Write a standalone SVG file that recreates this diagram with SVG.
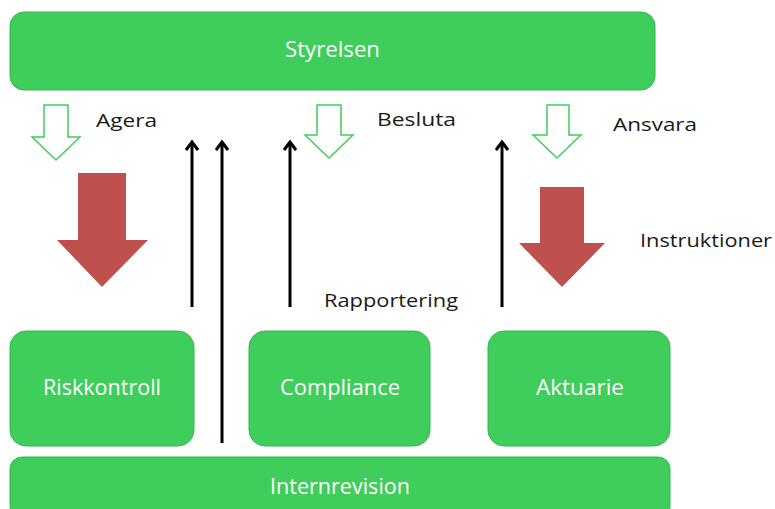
<svg xmlns="http://www.w3.org/2000/svg" width="775" height="509" viewBox="0 0 775 509">
<style>
.box{fill:#3fcd5c;stroke:#33b84f;stroke-width:1}
.bt{font-family:"Open Sans","DejaVu Sans",sans-serif;font-size:21px;fill:#ffffff}
.lb{font-family:"Open Sans","DejaVu Sans",sans-serif;font-size:19px;fill:#1a1a1a}
.open{fill:#ffffff;stroke:#3fcd5c;stroke-width:1.5;stroke-linejoin:miter}
.red{fill:#c0504d}
.con{stroke:#000;stroke-width:3;fill:none;marker-end:url(#ah)}
</style>
<defs>
<marker id="ah" viewBox="0 0 14 14" refX="11" refY="7" markerWidth="14" markerHeight="14" markerUnits="userSpaceOnUse" orient="auto">
<path d="M3,1 L11,7 L3,13" fill="none" stroke="#000" stroke-width="3"/>
</marker>
</defs>
<rect width="775" height="509" fill="#ffffff"/>
<g id="styrelsen"><rect class="box" x="10" y="12" width="645" height="78" rx="14"/><text class="bt" x="285" y="57" textLength="95" lengthAdjust="spacingAndGlyphs">Styrelsen</text></g>
<g id="riskkontroll"><rect class="box" x="10" y="331" width="184" height="115" rx="16"/><text class="bt" x="43" y="395" textLength="118" lengthAdjust="spacingAndGlyphs">Riskkontroll</text></g>
<g id="compliance"><rect class="box" x="249" y="331" width="181" height="115" rx="16"/><text class="bt" x="280" y="395" textLength="120" lengthAdjust="spacingAndGlyphs">Compliance</text></g>
<g id="aktuarie"><rect class="box" x="488" y="331" width="182" height="115" rx="16"/><text class="bt" x="536" y="395" textLength="88" lengthAdjust="spacingAndGlyphs">Aktuarie</text></g>
<g id="internrevision"><rect class="box" x="10" y="457" width="660" height="62" rx="12"/><text class="bt" x="270" y="494" textLength="140" lengthAdjust="spacingAndGlyphs">Internrevision</text></g>
<g id="shapes">
<path class="open" d="M44,105 H68 V137 H80 L56,160 L32,137 H44 Z"/>
<path class="open" d="M317,105 H341 V135 H353 L329,158 L305,135 H317 Z"/>
<path class="open" d="M547,105 H569 V135 H581 L557,158 L533,135 H547 Z"/>
<path class="red" d="M78,173 H126 V240 H148 L102,287 L57,240 H78 Z"/>
<path class="red" d="M540,187 H584 V243 H605 L562,287 L519,243 H540 Z"/>
</g>
<g id="connectors">
<line class="con" x1="192" y1="307" x2="192" y2="142"/>
<line class="con" x1="222" y1="443" x2="222" y2="142"/>
<line class="con" x1="290" y1="307" x2="290" y2="142"/>
<line class="con" x1="502" y1="307" x2="502" y2="142"/>
</g>
<g id="labels">
<text class="lb" x="96" y="127" textLength="61" lengthAdjust="spacingAndGlyphs">Agera</text>
<text class="lb" x="377" y="126" textLength="79" lengthAdjust="spacingAndGlyphs">Besluta</text>
<text class="lb" x="613" y="131" textLength="84" lengthAdjust="spacingAndGlyphs">Ansvara</text>
<text class="lb" x="640" y="247" textLength="132" lengthAdjust="spacingAndGlyphs">Instruktioner</text>
<text class="lb" x="324" y="307" textLength="134" lengthAdjust="spacingAndGlyphs">Rapportering</text>
</g>
</svg>
